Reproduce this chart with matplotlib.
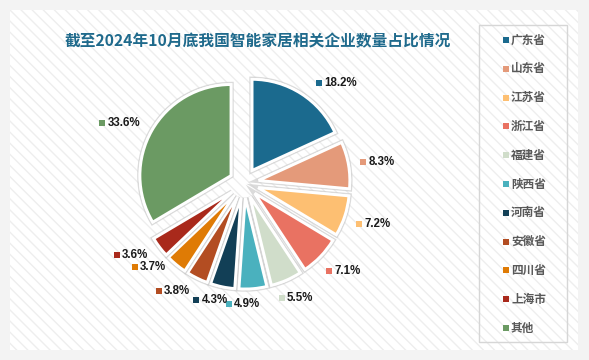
import matplotlib
matplotlib.use('Agg')
import matplotlib.pyplot as plt
import matplotlib.patheffects as pe
import numpy as np
from matplotlib.patches import Rectangle

provinces = ['广东省', '山东省', '江苏省', '浙江省', '福建省', '陕西省',
             '河南省', '安徽省', '四川省', '上海市', '其他']
shares = [18.2, 8.3, 7.2, 7.1, 5.5, 4.9, 4.3, 3.8, 3.7, 3.6, 33.6]
colors = ['#1b6a8e', '#e49a7a', '#fdbf72', '#e97262', '#d0ddca', '#4ab1be',
          '#123f56', '#b34d22', '#df7b05', '#a9291b', '#6b9a63']
title = '截至2024年10月底我国智能家居相关企业数量占比情况'

# small hand nudges for the data labels (degrees, pixels), like dragged labels
label_turn = [-10, -1, 1, 3, 2, -4, -3, -6, -8, -4, 4]
label_pull = [0, 0, 0, -2, -5, -4, -9, -6, -12, -6, 0]

W, H = 589, 360
plt.rcParams['hatch.linewidth'] = 1.0

fig = plt.figure(figsize=(W / 100, H / 100), dpi=100)
fig.patch.set_facecolor('#f3f3f3')
ax = fig.add_axes([0, 0, 1, 1])

# white panel with faint diagonal stripes
ax.add_patch(Rectangle((10, H - 350), 568, 340, facecolor='white',
                       edgecolor='#eeeeee', linewidth=0, hatch='\\\\\\', zorder=0))

# axes are in pixel units, so explode is a pixel offset here
cx, cy, r, ex = 244, H - 183, 91, 15
wedges, _ = ax.pie(shares, colors=colors, startangle=90, counterclock=False,
                   explode=[ex] * len(shares), center=(cx, cy), radius=r,
                   wedgeprops=dict(edgecolor='white', linewidth=2))
for w in wedges:
    w.set_zorder(2)
    w.set_path_effects([pe.withStroke(linewidth=4, foreground='#cccccc', alpha=0.7),
                        pe.Normal()])

ax.set_xlim(0, W)
ax.set_ylim(0, H)
ax.set_aspect('auto')
ax.axis('off')

# data labels: square marker + percentage, outside each slice
for w, v, c, dt, dd in zip(wedges, shares, colors, label_turn, label_pull):
    th = np.deg2rad((w.theta1 + w.theta2) / 2 + dt)
    d = r + ex + 12 + 19 * abs(np.cos(th)) + 7 * abs(np.sin(th)) + dd
    lx, ly = cx + d * np.cos(th), cy + d * np.sin(th)
    ax.scatter(lx - 17, ly, marker='s', s=14, color=c, linewidths=0, zorder=3)
    ax.text(lx - 12, ly, f'{v}%', ha='left', va='center', fontsize=8.3,
            fontweight='bold', family='Liberation Sans', color='#1a1a1a', zorder=3)

ax.text(258, H - 41, title, ha='center', va='center', fontsize=11.3,
        fontweight='bold', family=['Noto Sans CJK SC', 'DejaVu Sans'], color='#1f6a8c')

# legend drawn by hand
ax.add_patch(Rectangle((479, H - 342), 88, 317, facecolor='none',
                       edgecolor='#d6d6d6', linewidth=1, zorder=1))
for i, (name, c) in enumerate(zip(provinces, colors)):
    y = H - (40 + i * 28.8)
    ax.scatter(506, y, marker='s', s=14, color=c, linewidths=0, zorder=3)
    ax.text(511, y, name, ha='left', va='center', fontsize=8.4, fontweight='bold',
            family=['Noto Sans CJK SC', 'DejaVu Sans'], color='#595959')

fig.savefig('out.png', dpi=100, facecolor=fig.get_facecolor())
